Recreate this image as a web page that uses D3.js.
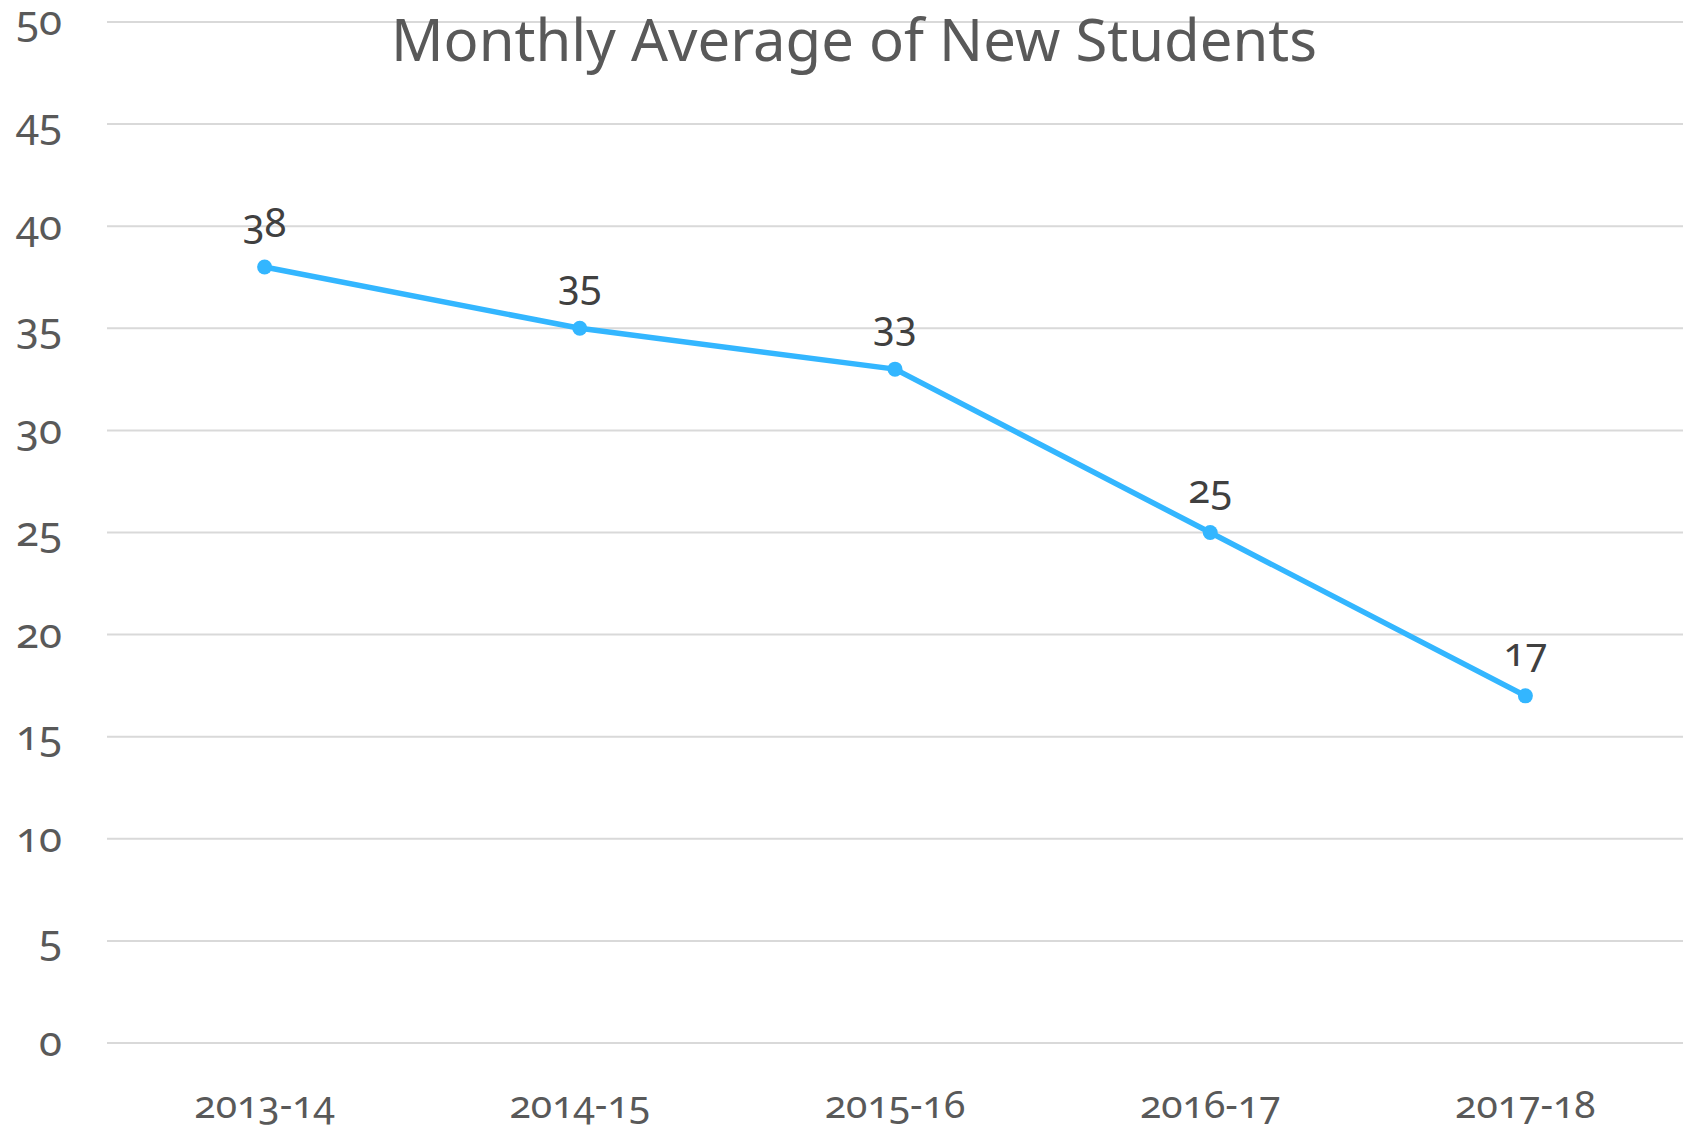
<!DOCTYPE html>
<meta charset="utf-8">
<style>
  body { margin: 0; background: #fff; }
  text { font-family: "Noto Sans", "Open Sans", sans-serif; font-variant-numeric: oldstyle-nums; }
</style>
<div id="container"></div>
<script src="https://cdn.jsdelivr.net/npm/d3@7"></script>
<script>

// data
const years = ['2013-14', '2014-15', '2015-16', '2016-17', '2017-18'];
const students = [38, 35, 33, 25, 17];
const yTicks = [0, 5, 10, 15, 20, 25, 30, 35, 40, 45, 50];
const title = 'Monthly Average of New Students';

const width = 1688, height = 1130;

const x = d3.scaleBand().domain(years).range([107, 1683]);
const y = d3.scaleLinear().domain([0, 50]).range([1043, 22]);

const svg = d3.select('#container').append('svg')
    .attr('width', width)
    .attr('height', height);

// gridlines
svg.append('g').selectAll('line').data(yTicks).enter().append('line')
    .attr('x1', 107).attr('x2', 1683)
    .attr('y1', d => y(d)).attr('y2', d => y(d))
    .attr('stroke', '#d9d9d9')
    .attr('stroke-width', 2);

// y axis labels
svg.append('g').selectAll('text').data(yTicks).enter().append('text')
    .attr('x', 62)
    .attr('y', d => y(d))
    .attr('dy', '0.32em')
    .attr('text-anchor', 'end')
    .attr('font-size', 42)
    .attr('fill', '#595959')
    .text(d => d);

// x axis labels
svg.append('g').selectAll('text').data(years).enter().append('text')
    .attr('x', d => x(d) + x.bandwidth() / 2)
    .attr('y', 1118)
    .attr('text-anchor', 'middle')
    .attr('font-size', 39)
    .attr('fill', '#595959')
    .text(d => d);

const pts = years.map((d, i) => ({ year: d, v: students[i] }));

const line = d3.line()
    .x(d => x(d.year) + x.bandwidth() / 2)
    .y(d => y(d.v));

svg.append('path')
    .datum(pts)
    .attr('d', line)
    .attr('fill', 'none')
    .attr('stroke', '#33b6ff')
    .attr('stroke-width', 5.5)
    .attr('stroke-linejoin', 'round');

svg.append('g').selectAll('circle').data(pts).enter().append('circle')
    .attr('cx', d => x(d.year) + x.bandwidth() / 2)
    .attr('cy', d => y(d.v))
    .attr('r', 7.5)
    .attr('fill', '#33b6ff');

// data labels
svg.append('g').selectAll('text').data(pts).enter().append('text')
    .attr('x', d => x(d.year) + x.bandwidth() / 2)
    .attr('y', d => y(d.v) - 30)
    .attr('text-anchor', 'middle')
    .attr('font-size', 40)
    .attr('fill', '#404040')
    .text(d => d.v);

// title
svg.append('text')
    .attr('x', 854)
    .attr('y', 61)
    .attr('text-anchor', 'middle')
    .attr('font-size', 58)
    .attr('fill', '#595959')
    .text(title);

</script>
